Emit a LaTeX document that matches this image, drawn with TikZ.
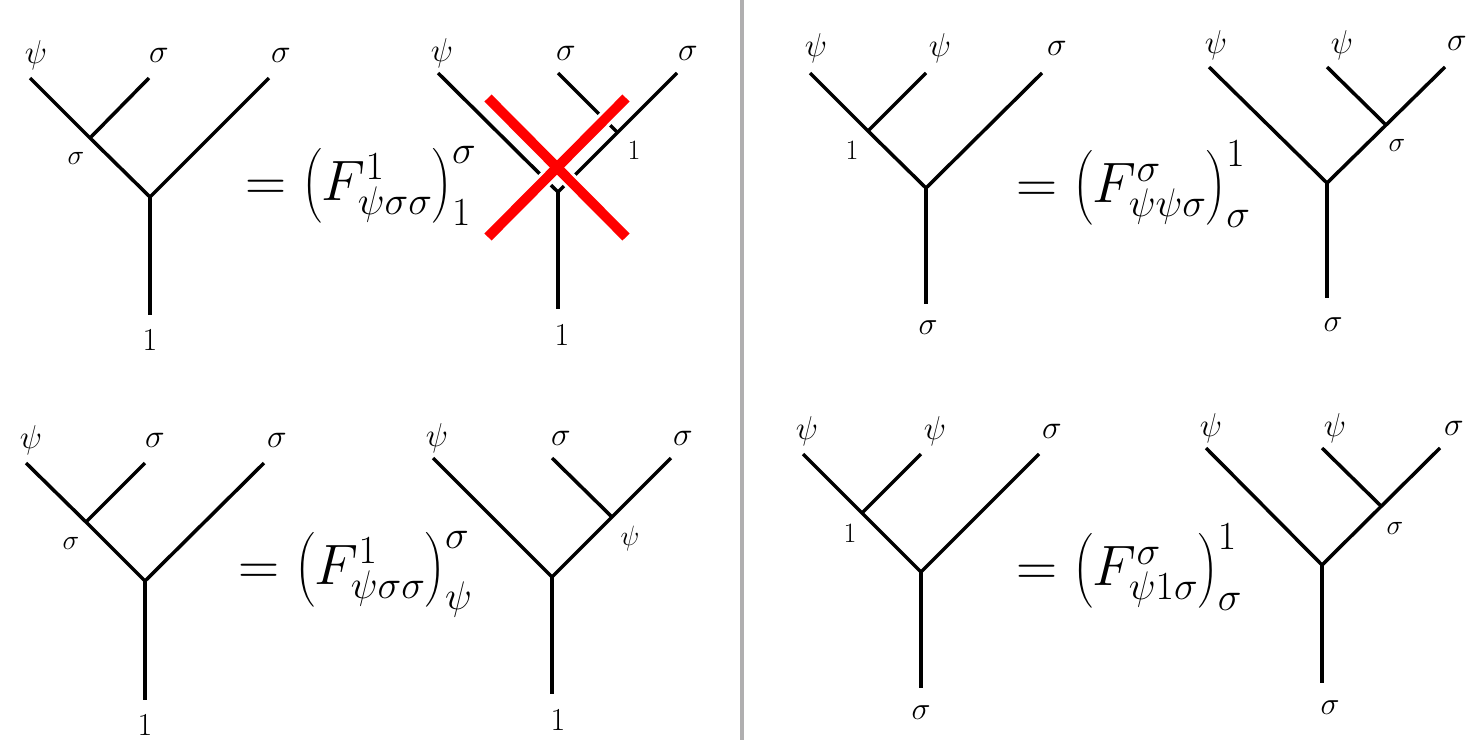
\RequirePackage{fix-cm}
\documentclass[tikz,border=0pt]{standalone}
\usepackage{amsmath}
\definecolor{sepgray}{RGB}{176,175,176}
\definecolor{xred}{RGB}{255,0,0}
\begin{document}
\begin{tikzpicture}[x=1pt, y=-1pt,
  wire/.style={line width=3.5pt, line cap=butt},
  toplab/.style={inner sep=0pt, font=\fontsize{33}{38}\selectfont},
  innlab/.style={inner sep=0pt, font=\fontsize{28}{32}\selectfont},
  botlab/.style={inner sep=0pt, font=\fontsize{32}{36}\selectfont},
  eqn/.style={inner sep=0pt, anchor=west, font=\fontsize{57}{70}\selectfont},
  halo/.style={line width=16pt, white},
  cross/.style={line width=10pt, xred}]
  \useasboundingbox (0,0) rectangle (1476,740);
  % separator
  \fill[sepgray] (740,0) rectangle (744,740);

  % ===== top left: left tree =====
  \coordinate (aL) at (30,78);   \coordinate (aM) at (149,78);
  \coordinate (aR) at (269,78);  \coordinate (aI) at (90,138);
  \coordinate (aV) at (150,197); \coordinate (aB) at (150,315);
  \draw[wire] (aL) -- (aI) -- (aV) -- (aR);
  \draw[wire] (aM) -- (aI);
  \draw[wire] (aV) -- (aB);
  \node[toplab] (aLt) at (36,55)  {$\psi$};
  \node[toplab] (aMt) at (159,55) {$\sigma$};
  \node[toplab] (aRt) at (281,55) {$\sigma$};
  \node[innlab] (aIt) at (76,158) {$\sigma$};
  \node[botlab] (aBt) at (150,340) {$1$};
  \node[eqn] (aEq) at (245,186) {$=\bigl(F^{1}_{\psi\sigma\sigma}\bigr)^{\sigma}_{1}$};
  % ===== top left: right tree, crossed out =====
  \coordinate (bL) at (438,73);  \coordinate (bM) at (558,73);
  \coordinate (bR) at (677,73);  \coordinate (bI) at (618,133);
  \coordinate (bV) at (558,192); \coordinate (bB) at (558,309);
  \draw[wire] (bL) -- (bV) -- (bR);
  \draw[wire] (bM) -- (bI);
  \draw[wire] (bV) -- (bB);
  \node[toplab] (bLt) at (442,53) {$\psi$};
  \node[toplab] (bMt) at (566,53) {$\sigma$};
  \node[toplab] (bRt) at (688,53) {$\sigma$};
  \node[innlab] (bIt) at (634,150) {$1$};
  \node[botlab] (bBt) at (562,335) {$1$};
  \coordinate (xA) at (488,98);  \coordinate (xB) at (626,237);
  \coordinate (xC) at (488,237); \coordinate (xD) at (626,98);
  \draw[halo] (xA) -- (xB);  \draw[halo] (xC) -- (xD);
  \draw[cross] (xA) -- (xB); \draw[cross] (xC) -- (xD);

  % ===== bottom left: left tree =====
  \coordinate (cL) at (26,463);  \coordinate (cM) at (145,463);
  \coordinate (cR) at (264,463); \coordinate (cI) at (86,522);
  \coordinate (cV) at (145,581); \coordinate (cB) at (145,700);
  \draw[wire] (cL) -- (cI) -- (cV) -- (cR);
  \draw[wire] (cM) -- (cI);
  \draw[wire] (cV) -- (cB);
  \node[toplab] (cLt) at (31,440)  {$\psi$};
  \node[toplab] (cMt) at (155,440) {$\sigma$};
  \node[toplab] (cRt) at (277,440) {$\sigma$};
  \node[innlab] (cIt) at (71,543) {$\sigma$};
  \node[botlab] (cBt) at (145,725) {$1$};
  \node[eqn] (cEq) at (238,574) {$=\bigl(F^{1}_{\psi\sigma\sigma}\bigr)^{\sigma}_{\psi}$};
  % ===== bottom left: right tree =====
  \coordinate (dL) at (433,458); \coordinate (dM) at (552,458);
  \coordinate (dR) at (671,458); \coordinate (dI) at (612,517);
  \coordinate (dV) at (552,577); \coordinate (dB) at (552,694);
  \draw[wire] (dL) -- (dV) -- (dR);
  \draw[wire] (dM) -- (dI);
  \draw[wire] (dV) -- (dB);
  \node[toplab] (dLt) at (437,438) {$\psi$};
  \node[toplab] (dMt) at (561,438) {$\sigma$};
  \node[toplab] (dRt) at (683,438) {$\sigma$};
  \node[innlab] (dIt) at (630,538) {$\psi$};
  \node[botlab] (dBt) at (558,720) {$1$};

  % ===== top right: left tree =====
  \coordinate (eL) at (810,73);  \coordinate (eM) at (926,73);
  \coordinate (eR) at (1042,73); \coordinate (eI) at (868,131);
  \coordinate (eV) at (926,188); \coordinate (eB) at (926,304);
  \draw[wire] (eL) -- (eI) -- (eV) -- (eR);
  \draw[wire] (eM) -- (eI);
  \draw[wire] (eV) -- (eB);
  \node[toplab] (eLt) at (816,48)  {$\psi$};
  \node[toplab] (eMt) at (940,48)  {$\psi$};
  \node[toplab] (eRt) at (1057,48) {$\sigma$};
  \node[innlab] (eIt) at (852,150) {$1$};
  \node[botlab] (eBt) at (928,328) {$\sigma$};
  \node[eqn] (eEq) at (1016,184) {$=\bigl(F^{\sigma}_{\psi\psi\sigma}\bigr)^{1}_{\sigma}$};
  % ===== top right: right tree =====
  \coordinate (fL) at (1209,67);  \coordinate (fM) at (1327,67);
  \coordinate (fR) at (1445,67);  \coordinate (fI) at (1386,125);
  \coordinate (fV) at (1327,183); \coordinate (fB) at (1327,298);
  \draw[wire] (fL) -- (fV) -- (fR);
  \draw[wire] (fM) -- (fI);
  \draw[wire] (fV) -- (fB);
  \node[toplab] (fLt) at (1216,45) {$\psi$};
  \node[toplab] (fMt) at (1342,45) {$\psi$};
  \node[toplab] (fRt) at (1457,43) {$\sigma$};
  \node[innlab] (fIt) at (1397,145) {$\sigma$};
  \node[botlab] (fBt) at (1333,325) {$\sigma$};

  % ===== bottom right: left tree =====
  \coordinate (gL) at (803,454);  \coordinate (gM) at (921,454);
  \coordinate (gR) at (1039,454); \coordinate (gI) at (862,513);
  \coordinate (gV) at (921,572);  \coordinate (gB) at (921,688);
  \draw[wire] (gL) -- (gI) -- (gV) -- (gR);
  \draw[wire] (gM) -- (gI);
  \draw[wire] (gV) -- (gB);
  \node[toplab] (gLt) at (807,431)  {$\psi$};
  \node[toplab] (gMt) at (935,431)  {$\psi$};
  \node[toplab] (gRt) at (1052,431) {$\sigma$};
  \node[innlab] (gIt) at (850,533) {$1$};
  \node[botlab] (gBt) at (921,713) {$\sigma$};
  \node[eqn] (gEq) at (1016,567) {$=\bigl(F^{\sigma}_{\psi1\sigma}\bigr)^{1}_{\sigma}$};
  % ===== bottom right: right tree =====
  \coordinate (hL) at (1206,448); \coordinate (hM) at (1322,448);
  \coordinate (hR) at (1440,448); \coordinate (hI) at (1381,506);
  \coordinate (hV) at (1322,565); \coordinate (hB) at (1322,683);
  \draw[wire] (hL) -- (hV) -- (hR);
  \draw[wire] (hM) -- (hI);
  \draw[wire] (hV) -- (hB);
  \node[toplab] (hLt) at (1211,428) {$\psi$};
  \node[toplab] (hMt) at (1335,428) {$\psi$};
  \node[toplab] (hRt) at (1454,428) {$\sigma$};
  \node[innlab] (hIt) at (1395,528) {$\sigma$};
  \node[botlab] (hBt) at (1330,708) {$\sigma$};
\end{tikzpicture}
\end{document}
